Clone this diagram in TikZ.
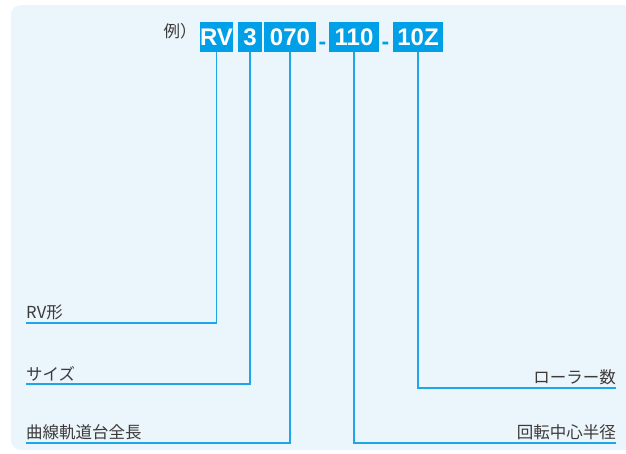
\documentclass[tikz,border=0pt]{standalone}
\usepackage{fontspec}
\newfontfamily\jpfont{Noto Sans CJK JP}
\newfontfamily\codefont{Liberation Sans}
\definecolor{keyblue}{HTML}{00A0E9}
\definecolor{leadblue}{HTML}{1EA7E8}
\definecolor{paleblue}{HTML}{EAF5FC}
\definecolor{labelgray}{HTML}{3E3A39}
\begin{document}
\begin{tikzpicture}[x=1pt, y=-1pt,
    code/.style={fill=keyblue, text=white, font=\codefont\bfseries\fontsize{24}{24}\selectfont,
      minimum height=30pt, inner xsep=0pt, inner ysep=0pt},
    sep/.style={text=keyblue, font=\codefont\bfseries\fontsize{23}{23}\selectfont, inner sep=0pt},
    lead/.style={draw=leadblue, line width=1.6pt},
    meaning/.style={text=labelgray, font=\jpfont\fontsize{16.5}{18}\selectfont, inner xsep=0pt, inner ysep=3pt}]
        \useasboundingbox (0,0) rectangle (626,453);
        \clip (0,0) rectangle (626,453);
        \fill[paleblue, rounded corners=10pt] (11,5) rectangle (660,450);
        % model code
        \node[meaning, inner sep=0pt] (ex) at (180,31) {例）};
        \node[code, minimum width=33pt] (rv) at (216.5,37) {RV};
        \node[code, minimum width=24pt] (size) at (250,37) {3};
        \node[code, minimum width=52pt] (len) at (290,37) {070};
        \node[sep] (d1) at (322.5,46) {-};
        \node[code, minimum width=50pt] (rad) at (354,37) {110};
        \node[sep] (d2) at (385.5,46) {-};
        \node[code, minimum width=50pt] (roll) at (418,37) {10Z};
        % meanings
        \node[meaning, anchor=south west] (lrv) at (26,323) {RV形};
        \node[meaning, anchor=south west] (lsize) at (26,384) {サイズ};
        \node[meaning, anchor=south west] (llen) at (26,443) {曲線軌道台全長};
        \node[meaning, anchor=south east] (lroll) at (616,388) {ローラー数};
        \node[meaning, anchor=south east] (lrad) at (616,443) {回転中心半径};
        \draw[lead] (rv.south) |- (lrv.south west);
        \draw[lead] (size.south) |- (lsize.south west);
        \draw[lead] (len.south) |- (llen.south west);
        \draw[lead] (roll.south) |- (lroll.south east);
        \draw[lead] (rad.south) |- (lrad.south east);
    \end{tikzpicture}
\end{document}
